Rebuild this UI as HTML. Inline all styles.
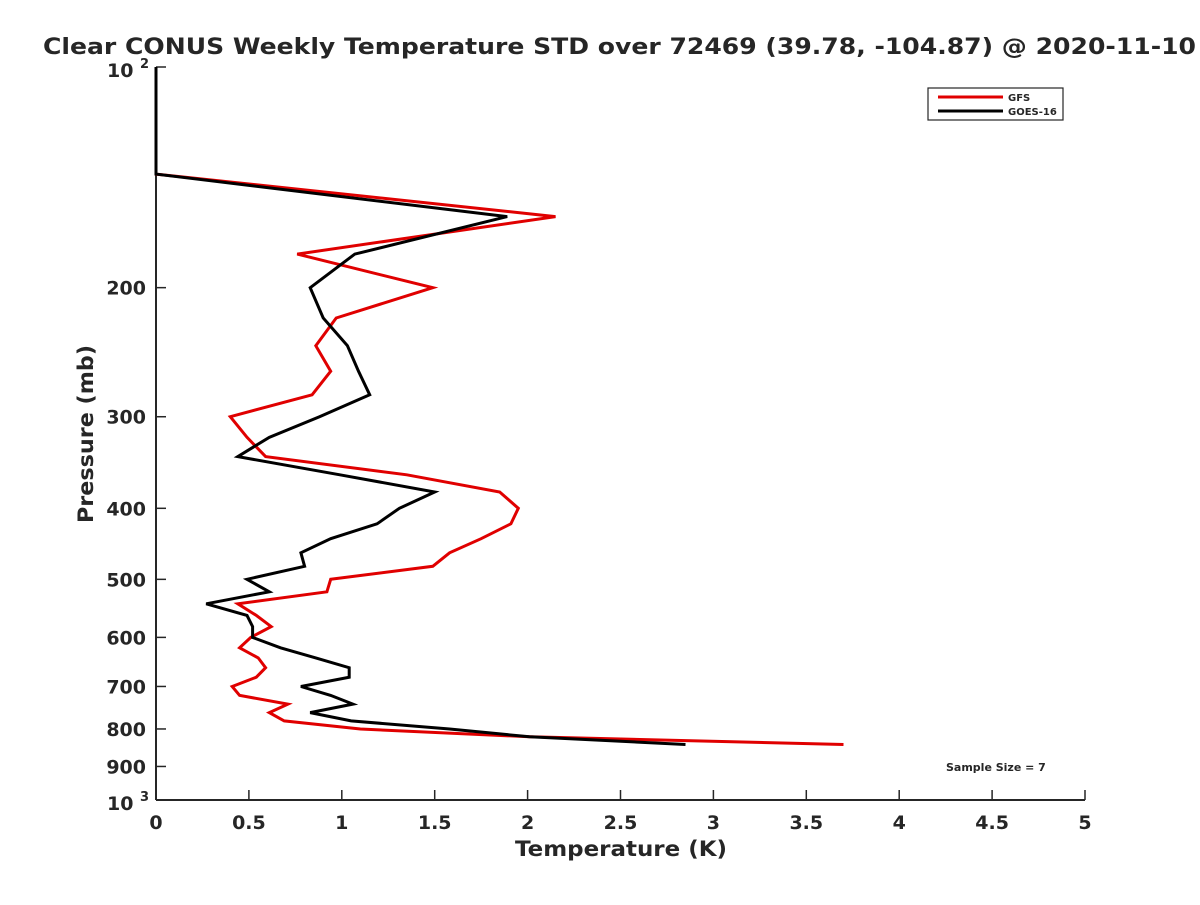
<!DOCTYPE html>
<html><head><meta charset="utf-8"><style>
body{margin:0;background:#fff}
svg text{font-family:"DejaVu Sans","Liberation Sans",sans-serif;font-weight:bold;fill:#262626}
</style></head><body>
<svg id="chart" width="1200" height="900" xmlns="http://www.w3.org/2000/svg">
<rect width="1200" height="900" fill="#fff"/>
<text x="43" y="54" font-size="22" textLength="1153" lengthAdjust="spacingAndGlyphs">Clear CONUS Weekly Temperature STD over 72469 (39.78, -104.87) @ 2020-11-10</text>
<g id="axes"></g>
<g id="series"></g>
<g>
<rect x="928" y="88" width="135" height="32" fill="#fff" stroke="#262626" stroke-width="1.2"/>
<line x1="938" y1="97" x2="1003" y2="97" stroke="#e00000" stroke-width="3"/>
<text x="1008" y="101" font-size="10">GFS</text>
<line x1="938" y1="111" x2="1003" y2="111" stroke="#000" stroke-width="3"/>
<text x="1008" y="115" font-size="10">GOES-16</text>
</g>
<text x="946" y="771" font-size="11">Sample Size = 7</text>
</svg>
<script>
const pressures=[100,120,140,160,180,200,220,240,260,280,300,320,340,360,380,400,420,440,460,480,500,520,540,560,580,600,620,640,660,680,700,720,740,760,780,800,820,840];
const gfsValues=[0,0,0,2.15,0.76,1.49,0.97,0.86,0.94,0.84,0.40,0.49,0.59,1.35,1.85,1.95,1.91,1.75,1.58,1.49,0.94,0.92,0.44,0.54,0.62,0.51,0.45,0.55,0.59,0.54,0.41,0.45,0.71,0.61,0.69,1.10,2.01,3.70];
const goesValues=[0,0,0,1.89,1.07,0.83,0.90,1.03,1.09,1.15,0.88,0.61,0.44,0.99,1.50,1.31,1.19,0.94,0.78,0.80,0.49,0.61,0.27,0.49,0.52,0.52,0.67,0.86,1.04,1.04,0.78,0.94,1.06,0.83,1.05,1.58,2.01,2.85];
const xTicks=[0,0.5,1,1.5,2,2.5,3,3.5,4,4.5,5];
const xTickLabels=["0","0.5","1","1.5","2","2.5","3","3.5","4","4.5","5"];
const yTicks=[200,300,400,500,600,700,800,900];
const NS="http://www.w3.org/2000/svg";
const L=156,R=1085,T=67,B=800;
function xs(v){return L+(v-0)/(5-0)*(R-L);}
function ys(p){return T+(Math.log10(p)-2)*(B-T);}
function mk(tag,attrs,parent){const e=document.createElementNS(NS,tag);for(const k in attrs)e.setAttribute(k,attrs[k]);parent.appendChild(e);return e;}
const axes=document.getElementById('axes');
let e=mk('line',{x1:L,y1:T,x2:L,y2:B,stroke:'#262626','stroke-width':2},axes);


e=mk('line',{x1:L,y1:B,x2:R,y2:B,stroke:'#262626','stroke-width':2},axes);


xTicks.forEach((v,i)=>{
 const t=mk('line',{x1:xs(v),y1:B,x2:xs(v),y2:B-10,stroke:'#262626','stroke-width':1.5},axes);
 
 
 const l=mk('text',{x:xs(v),y:B+29,'font-size':19,'text-anchor':'middle'},axes);
 l.textContent=xTickLabels[i];
 
 
});
yTicks.concat([100,1000]).forEach(p=>{
 const t=mk('line',{x1:L,y1:ys(p),x2:L+10,y2:ys(p),stroke:'#262626','stroke-width':1.5},axes);
 
 
});
yTicks.forEach(p=>{
 const l=mk('text',{x:L-10,y:ys(p)+7,'font-size':19,'text-anchor':'end'},axes);
 l.textContent=String(p);
 
 
});
[[100,'2'],[1000,'3']].forEach(([p,s])=>{
 const l=mk('text',{x:L-49,y:ys(p)+10,'font-size':19,'text-anchor':'start'},axes);
 l.textContent='10';
 
 
 const sp=mk('text',{x:L-16,y:ys(p)+1,'font-size':13,'text-anchor':'start'},axes);
 sp.textContent=s;
 
 
});
e=mk('text',{x:515,y:856,'font-size':21,textLength:212,lengthAdjust:'spacingAndGlyphs'},axes);
e.textContent='Temperature (K)';


e=mk('text',{x:0,y:0,'font-size':21,textLength:178,lengthAdjust:'spacingAndGlyphs',transform:'translate(93,523) rotate(-90)'},axes);
e.textContent='Pressure (mb)';


const ser=document.getElementById('series');
function line(vals,color,name){
 const d=vals.map((v,i)=>(i?'L':'M')+xs(v).toFixed(1)+','+ys(pressures[i]).toFixed(1)).join(' ');
 const p=mk('path',{d:d,fill:'none',stroke:color,'stroke-width':3,'stroke-linejoin':'miter'},ser);
 
 
}
line(gfsValues,'#e00000','gfs-line');
line(goesValues,'#000000','goes16-line');
</script>
</body></html>
